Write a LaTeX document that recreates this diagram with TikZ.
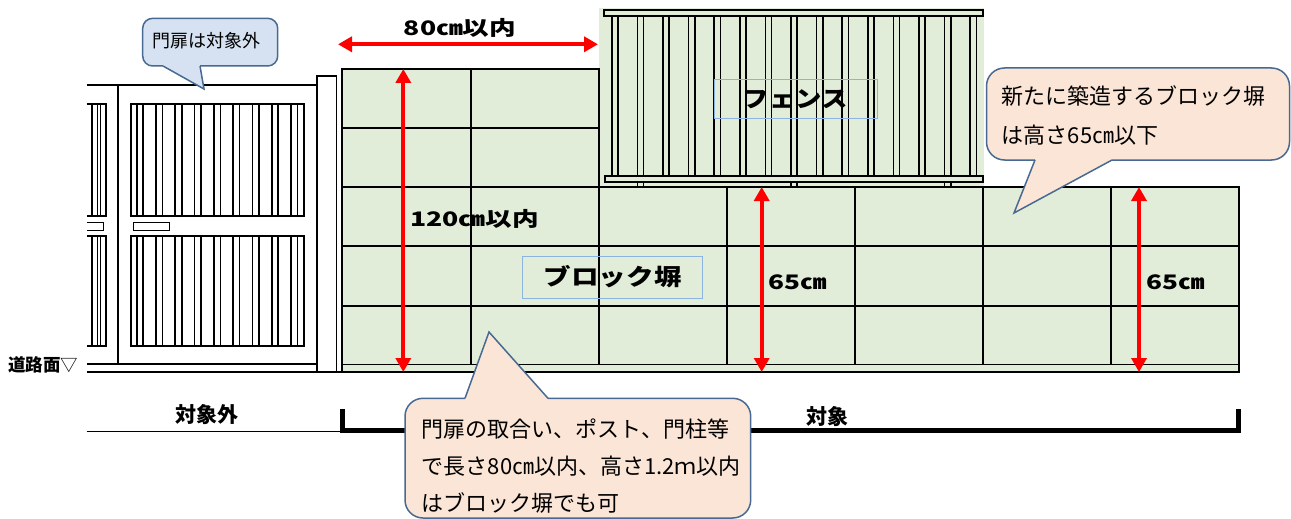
\documentclass[tikz,border=0pt]{standalone}
\usepackage{fontspec}
\setmainfont{Noto Sans CJK JP}
\usepackage{graphicx}
\usetikzlibrary{arrows.meta}
\definecolor{wallgreen}{RGB}{226,237,217}
\definecolor{peach}{RGB}{251,229,214}
\definecolor{lblue}{RGB}{214,226,242}
\definecolor{cline}{RGB}{72,106,146}
\definecolor{lbline}{RGB}{140,180,226}
\tikzset{
  wl/.style={line width=1.8pt},
  wallout/.style={line width=2.2pt},
  gl/.style={line width=2pt},
  pick/.style={line width=1.6pt},
  redarr/.style={draw=red, line width=4pt, {Triangle[length=14pt,width=15pt]}-{Triangle[length=14pt,width=15pt]}},
  lbbox/.style={draw=lbline, line width=1pt, inner sep=0pt},
  dimlbl/.style={inner sep=0pt, font=\bfseries\fontsize{20pt}{20pt}\selectfont},
  namelbl/.style={inner sep=0pt, font=\bfseries\fontsize{23pt}{23pt}\selectfont},
  basetext/.style={inner sep=0pt, font=\bfseries\fontsize{21pt}{21pt}\selectfont},
  cbox/.style={draw=cline, line width=1.5pt, inner sep=0pt},
  ctext/.style={inner sep=0pt, anchor=west, font=\fontsize{22pt}{22pt}\selectfont},
}
\begin{document}
\begin{tikzpicture}[x=1pt,y=-1pt,line join=miter]
\useasboundingbox (0,0) rectangle (1291,519);

% fence background
\fill[wallgreen] (598.7,8) rectangle (984,187);

% block wall
\fill[wallgreen] (342,69) -- (598.7,69) -- (598.7,187) -- (1239,187) -- (1239,372) -- (342,372) -- cycle;
\draw[wl] (342,128) -- (598.7,128);
\draw[wl] (342,187) -- (598.7,187);
\foreach \yy in {246,306,364.5} {\draw[wl] (342,\yy) -- (1239,\yy);}
\draw[wl] (470.7,69) -- (470.7,364.5);
\foreach \xx in {598.7,726.7,854.7,982.7,1110.7} {\draw[wl] (\xx,187) -- (\xx,364.5);}
\draw[wallout] (342,69) -- (598.7,69) -- (598.7,187) -- (1239,187) -- (1239,372) -- (342,372) -- cycle;

% fence
\foreach \i in {0,...,14} {
  \pgfmathsetmacro\px{611.7+25.6*\i}
  \draw[pick] (\px,16) rectangle (\px+6.3,176);
}
\foreach \i in {1,7,13} {
  \pgfmathsetmacro\px{611.7+25.6*\i}
  \draw[pick] (\px,16) rectangle (\px+6.3,187);
}
\draw[wl,fill=wallgreen] (604.3,10) rectangle (983.3,16);
\draw[wl,fill=wallgreen] (605,176) rectangle (983,181.7);

% gate
\draw[line width=2.2pt] (86.7,85) -- (317,85);
\draw[gl] (117.7,85) -- (117.7,364.3);
\draw[line width=2.2pt] (86.7,364.3) -- (317,364.3);
\draw[wl] (86.7,372.3) -- (342,372.3);
\draw[gl] (130.7,104.3) rectangle (304,215.7);
\draw[gl] (130.7,236) rectangle (304,345.7);
\foreach \i in {0,...,8} {
  \pgfmathsetmacro\px{136.7+19.29*\i}
  \draw[pick] (\px,104.3) rectangle (\px+6.5,215.7);
  \draw[pick] (\px,236) rectangle (\px+6.5,345.7);
}
% partial left leaf
\draw[gl] (86.7,104.3) -- (105.5,104.3) -- (105.5,215.7) -- (86.7,215.7);
\draw[gl] (86.7,236) -- (105.5,236) -- (105.5,345.7) -- (86.7,345.7);
\foreach \xx in {92,97.5,100.5} {
  \draw[pick] (\xx,104.3) -- (\xx,215.7);
  \draw[pick] (\xx,236) -- (\xx,345.7);
}
\draw[line width=0.9pt] (133,222.7) rectangle (169,230);
\draw[line width=0.9pt] (86.7,222.7) -- (103,222.7) -- (103,230) -- (86.7,230);
% pillar
\draw[wl,fill=white] (317,76) rectangle (336.5,372.3);

% labels in boxes
\node[lbbox, minimum width=180pt, minimum height=42pt] (blkbox) at (612.7,277) {};
\node[namelbl] (blk) at (blkbox.center) {\scalebox{1.2}[1]{ブロック塀}};
\node[lbbox, minimum width=163pt, minimum height=38pt] (fncbox) at (795.5,99) {};
\node[namelbl] (fnc) at (fncbox.center) {\scalebox{1.15}[1]{フェンス}};

% dimension arrows
\coordinate (h1) at (338,44.3);
\coordinate (h2) at (598,44.3);
\draw[redarr] (h1) -- (h2);
\node[dimlbl] (l80) at (460,28) {\scalebox{1.33}[1]{80㎝以内}};
\coordinate (v1t) at (403.3,69);
\coordinate (v1b) at (403.3,372);
\draw[redarr] (v1t) -- (v1b);
\node[dimlbl] (l120) at (474.5,219) {\scalebox{1.33}[1]{120㎝以内}};
\coordinate (v2t) at (761.7,187);
\coordinate (v2b) at (761.7,372);
\draw[redarr] (v2t) -- (v2b);
\node[dimlbl] (l65a) at (797.5,282) {\scalebox{1.31}[1]{65㎝}};
\coordinate (v3t) at (1139,187);
\coordinate (v3b) at (1139,372);
\draw[redarr] (v3t) -- (v3b);
\node[dimlbl] (l65b) at (1175.5,282) {\scalebox{1.31}[1]{65㎝}};

% bottom brackets
\coordinate (bl) at (86.7,431.5);
\coordinate (bm) at (342,431.5);
\draw[wl] (bl) -- (bm);
\coordinate (r1) at (342.3,409);
\coordinate (r2) at (342.3,430.5);
\coordinate (r3) at (1238.5,430.5);
\coordinate (r4) at (1238.5,409);
\draw[line width=4.5pt] (r1) -- (r2) -- (r3) -- (r4);
\node[basetext] (out) at (206.5,415) {対象外};
\node[basetext] (tgt) at (827.5,417) {対象};
\node[inner sep=0pt, anchor=west, font=\fontsize{17.5pt}{17.5pt}\selectfont] (road) at (8,365) {{\bfseries 道路面}▽};

% callout 1
\node[cbox, fill=lblue, rounded corners=10pt, minimum width=135pt, minimum height=47.7pt] (c1) at (210.2,42.15) {};
\fill[lblue] (163.5,63.5) -- (163,66) -- (204,89) -- (200,66) -- (199.5,63.5) -- cycle;
\draw[draw=cline, line width=1.5pt] (163,66) -- (204,89) -- (200,66);
\node[inner sep=0pt, font=\fontsize{18pt}{18pt}\selectfont] (c1t) at (206,41) {門扉は対象外};

% callout 2
\node[cbox, fill=peach, rounded corners=18pt, minimum width=303pt, minimum height=92pt] (c2) at (1138,114) {};
\fill[peach] (1036,157.5) -- (1035,160) -- (1014,213) -- (1112,160) -- (1111,157.5) -- cycle;
\draw[draw=cline, line width=1.5pt] (1035,160) -- (1014,213) -- (1112,160);
\node[ctext] (c2a) at (1001.7,96) {新たに築造するブロック塀};
\node[ctext] (c2b) at (1001.7,135) {は高さ65㎝以下};

% callout 3
\node[cbox, fill=peach, rounded corners=18pt, minimum width=345.7pt, minimum height=119.7pt] (c3) at (577.85,458.15) {};
\fill[peach] (465.5,401) -- (465,398.3) -- (489,332) -- (548,398.3) -- (547.5,401) -- cycle;
\draw[draw=cline, line width=1.5pt] (465,398.3) -- (489,332) -- (548,398.3);
\node[ctext] (c3a) at (421.7,429) {門扉の取合い、ポスト、門柱等};
\node[ctext] (c3b) at (421.7,466) {で長さ80㎝以内、高さ1.2ｍ以内};
\node[ctext] (c3c) at (421.7,503) {はブロック塀でも可};
\end{tikzpicture}
\end{document}
